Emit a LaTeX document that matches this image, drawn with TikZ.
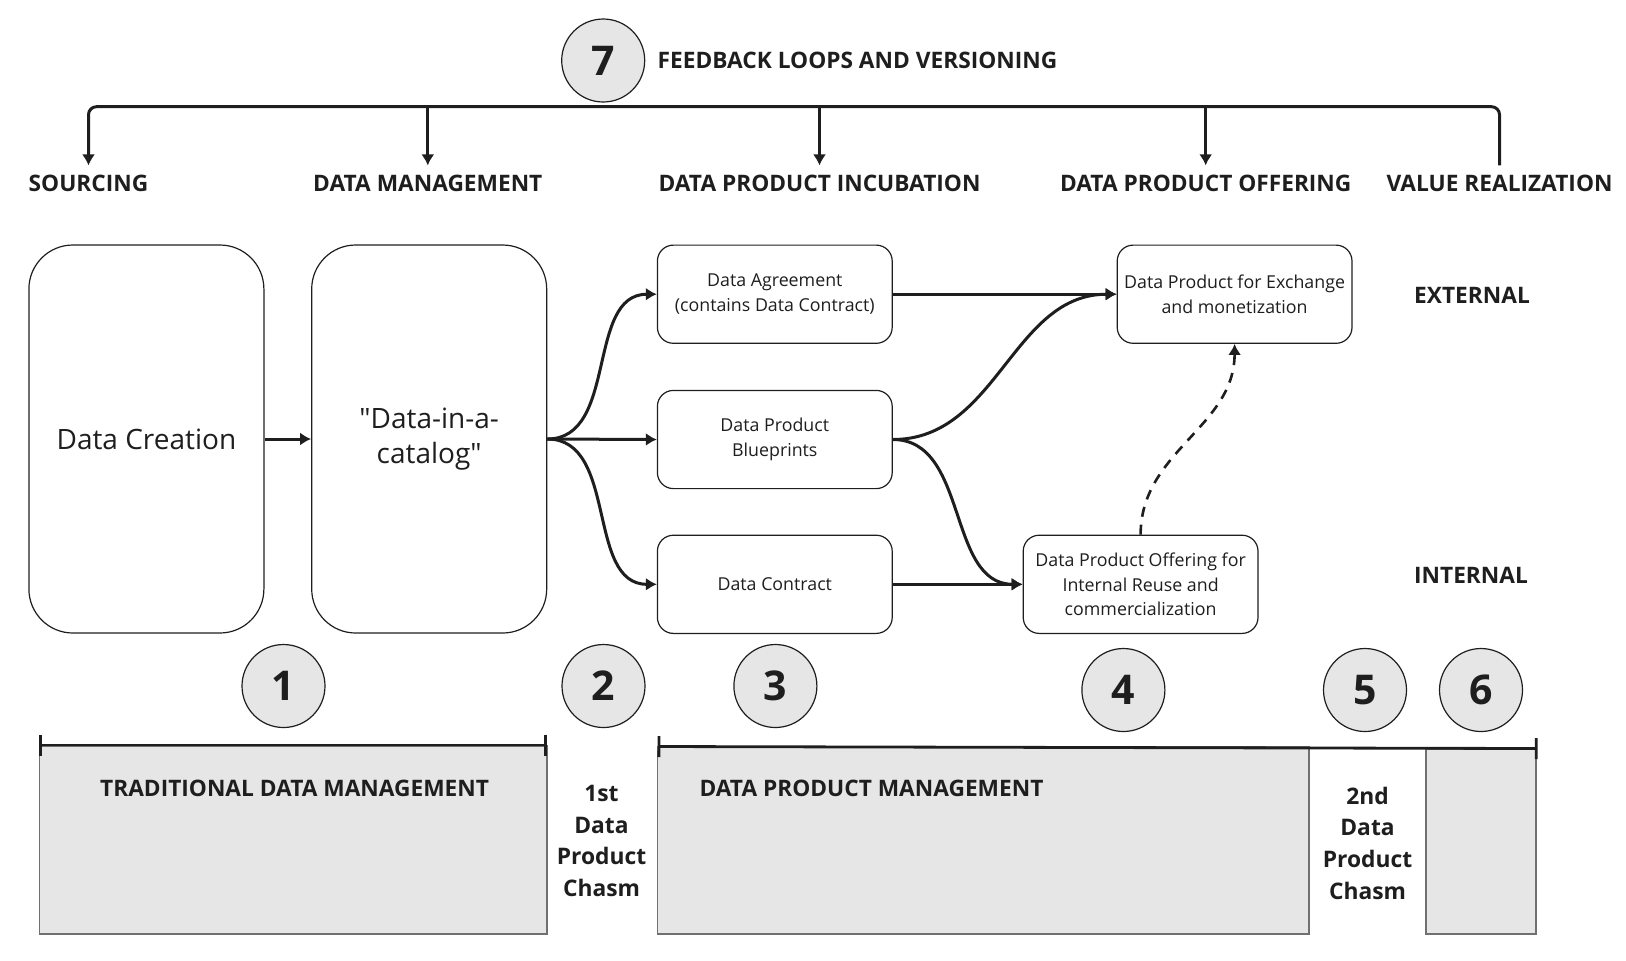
\documentclass[tikz,border=0pt]{standalone}
\usepackage{fontspec}
\setmainfont{Open Sans}
\usetikzlibrary{arrows.meta,positioning,calc}
\definecolor{ink}{HTML}{1E1E1E}
\definecolor{panel}{HTML}{E6E6E6}
\definecolor{rim}{HTML}{707070}
\newcommand\straightquote{\XeTeXglyph\XeTeXcharglyph"22\relax}

\begin{document}
\begin{tikzpicture}[x=0.5pt,y=-0.5pt,>={Latex[length=5.5pt,width=6.5pt]}]
	\tikzstyle{hdr} = [font=\fontsize{11.35}{13}\selectfont\bfseries, text=ink, inner xsep=2pt, inner ysep=4.8pt]
	\tikzstyle{num} = [circle, draw=ink, line width=0.6pt, fill=panel, minimum size=41.5pt, inner sep=0pt, font=\fontsize{20.5}{24}\selectfont\bfseries, text=ink]
	\tikzstyle{bigbox} = [draw=ink, line width=0.6pt, rounded corners=22pt, minimum width=117.5pt, minimum height=194pt, align=center, text=ink, font=\fontsize{14}{17.5}\selectfont]
	\tikzstyle{box} = [draw=ink, line width=0.6pt, rounded corners=8pt, minimum width=117.4pt, minimum height=49.1pt, align=center, text=ink, font=\fontsize{8.9}{12.35}\selectfont]
	\tikzstyle{link} = [draw=ink, line width=1.5pt]
	\tikzstyle{panelbox} = [fill=panel, draw=rim, line width=0.6pt]
	\tikzstyle{chasm} = [align=center, text=ink, font=\fontsize{11.4}{15.85}\selectfont\bfseries]
	\useasboundingbox (0,0) rectangle (1626,960);

	% feedback loop over all phases
	\node[num] (n7) at (603.2,60.5) {7};
	\node[hdr, right=6pt of n7, inner xsep=0pt] (fb) {FEEDBACK LOOPS AND VERSIONING};
	\coordinate (bar) at (0,106.7);
	\node[hdr] (src) at (88.5,183.8) {SOURCING};
	\node[hdr] (dm) at (427.8,183.8) {DATA MANAGEMENT};
	\node[hdr] (inc) at (819.5,183.8) {DATA PRODUCT INCUBATION};
	\node[hdr] (ofr) at (1205.7,183.8) {DATA PRODUCT OFFERING};
	\node[hdr] (val) at (1499.5,183.8) {VALUE REALIZATION};
	\draw[link, <-, rounded corners=4pt] (src.north) -- (src.north |- bar) -- (val.north |- bar) -- (val.north);
	\foreach \t in {dm,inc,ofr}
		\draw[link, ->] (\t.north |- bar) -- (\t.north);

	% flow
	\node[bigbox] (dc) at (146.4,439) {Data Creation};
	\node[bigbox] (cat) at (429.2,439) {\straightquote Data-in-a-\\catalog\straightquote};
	\node[box] (agr) at (774.8,294.2) {Data Agreement\\(contains Data Contract)};
	\node[box] (blu) at (774.8,439.5) {Data Product\\Blueprints};
	\node[box] (con) at (774.8,584.3) {Data Contract};
	\node[box] (exc) at (1234.6,294.2) {Data Product for Exchange\\and monetization};
	\node[box] (off) at (1140.6,584.3) {Data Product Offering for\\Internal Reuse and\\commercialization};
	\node[hdr] (ext) at (1472,295) {EXTERNAL};
	\node[hdr] (int) at (1471,575) {INTERNAL};

	\draw[link, ->] (dc.east) -- (cat.west);
	\draw[link, ->] (cat.east) to[out=0,in=180] (agr.west);
	\draw[link, ->] (cat.east) -- (blu.west);
	\draw[link, ->] (cat.east) to[out=0,in=180] (con.west);
	\draw[link, ->] (agr.east) -- (exc.west);
	\draw[link, ->] (blu.east) to[out=0,in=180] (exc.west);
	\draw[link, ->] (blu.east) to[out=0,in=180] (off.west);
	\draw[link, ->] (con.east) -- (off.west);
	\draw[link, ->, line width=1.3pt, dash pattern=on 5pt off 4pt] (off.north) to[out=90,in=-90] (exc.south);

	% phases
	\node[num] (n1) at (283.5,686) {1};
	\node[num] (n2) at (603.5,686) {2};
	\node[num] (n3) at (775.4,686) {3};
	\node[num] (n4) at (1123.4,690) {4};
	\node[num] (n5) at (1365,690) {5};
	\node[num] (n6) at (1481,690) {6};
	\path[panelbox] (39.2,746) rectangle (547,934);
	\path[panelbox] (657.5,747) rectangle (1309,934);
	\path[panelbox] (1426,749) rectangle (1536,934);
	\draw[link, line width=1.4pt, {Bar[width=10.5pt]}-{Bar[width=10.5pt]}] (39.2,745) -- (547,745);
	\draw[link, line width=1.4pt, {Bar[width=10.5pt]}-{Bar[width=10.5pt]}] (657.5,746.5) -- (1537.6,748.5);
	\node[hdr] (tdm) at (294.6,788) {TRADITIONAL DATA MANAGEMENT};
	\node[hdr] (dpm) at (871.5,788) {DATA PRODUCT MANAGEMENT};
	\node[chasm] (ch1) at (601.5,841) {1st\\Data\\Product\\Chasm};
	\node[chasm] (ch2) at (1367.5,843) {2nd\\Data\\Product\\Chasm};
\end{tikzpicture}
\end{document}
